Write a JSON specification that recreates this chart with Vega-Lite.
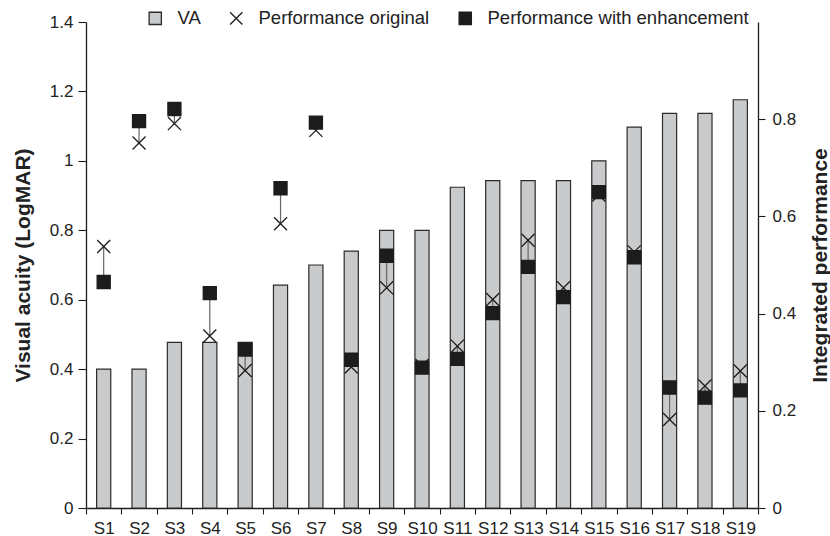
{
  "$schema": "https://vega.github.io/schema/vega-lite/v6.json",
  "width": 672,
  "height": 486,
  "autosize": {"type": "none"},
  "padding": {"left": 86, "top": 22, "right": 72, "bottom": 28},
  "background": "white",
  "data": {
    "values": [
      {"subject": "S1", "VA": 0.4, "Performance original": 0.538, "Performance with enhancement": 0.465},
      {"subject": "S2", "VA": 0.4, "Performance original": 0.751, "Performance with enhancement": 0.796},
      {"subject": "S3", "VA": 0.477, "Performance original": 0.791, "Performance with enhancement": 0.821},
      {"subject": "S4", "VA": 0.477, "Performance original": 0.354, "Performance with enhancement": 0.442},
      {"subject": "S5", "VA": 0.477, "Performance original": 0.283, "Performance with enhancement": 0.326},
      {"subject": "S6", "VA": 0.642, "Performance original": 0.585, "Performance with enhancement": 0.658},
      {"subject": "S7", "VA": 0.7, "Performance original": 0.777, "Performance with enhancement": 0.793},
      {"subject": "S8", "VA": 0.74, "Performance original": 0.29, "Performance with enhancement": 0.305},
      {"subject": "S9", "VA": 0.8, "Performance original": 0.453, "Performance with enhancement": 0.519},
      {"subject": "S10", "VA": 0.8, "Performance original": 0.293, "Performance with enhancement": 0.289},
      {"subject": "S11", "VA": 0.924, "Performance original": 0.333, "Performance with enhancement": 0.307},
      {"subject": "S12", "VA": 0.943, "Performance original": 0.429, "Performance with enhancement": 0.401},
      {"subject": "S13", "VA": 0.943, "Performance original": 0.551, "Performance with enhancement": 0.496},
      {"subject": "S14", "VA": 0.943, "Performance original": 0.453, "Performance with enhancement": 0.434},
      {"subject": "S15", "VA": 1.0, "Performance original": 0.644, "Performance with enhancement": 0.65},
      {"subject": "S16", "VA": 1.097, "Performance original": 0.527, "Performance with enhancement": 0.516},
      {"subject": "S17", "VA": 1.137, "Performance original": 0.182, "Performance with enhancement": 0.248},
      {"subject": "S18", "VA": 1.137, "Performance original": 0.251, "Performance with enhancement": 0.227},
      {"subject": "S19", "VA": 1.176, "Performance original": 0.282, "Performance with enhancement": 0.242}
    ]
  },
  "encoding": {
    "x": {
      "field": "subject",
      "type": "nominal",
      "sort": null,
      "scale": {"paddingInner": 0, "paddingOuter": 0},
      "axis": {
        "title": null,
        "labelAngle": 0,
        "tickBand": "extent",
        "tickSize": 6,
        "labelPadding": 6,
        "labelFontSize": 17
      }
    }
  },
  "layer": [
    {
      "mark": {"type": "bar", "width": {"band": 0.4}, "fill": "#c9cacc", "stroke": "#2b2b2b", "strokeWidth": 1.2},
      "encoding": {
        "y": {
          "field": "VA",
          "type": "quantitative",
          "scale": {"domain": [0, 1.4], "nice": false},
          "axis": {
            "orient": "left",
            "title": "Visual acuity (LogMAR)",
            "values": [0, 0.2, 0.4, 0.6, 0.8, 1, 1.2, 1.4],
            "format": "~g",
            "tickSize": 8,
            "labelPadding": 5,
            "titlePadding": 16,
            "labelFontSize": 17,
            "titleFontSize": 21
          }
        }
      }
    },
    {
      "layer": [
        {
          "mark": {"type": "rule", "stroke": "#666666", "strokeWidth": 1.2},
          "encoding": {
            "y": {
              "field": "Performance original",
              "type": "quantitative",
              "scale": {"domain": [0, 1], "nice": false},
              "axis": {
                "orient": "right",
                "title": "Integrated performance",
                "values": [0, 0.2, 0.4, 0.6, 0.8],
                "format": "~g",
                "tickSize": 7,
                "labelPadding": 7,
                "titlePadding": 14,
                "titleAngle": -90,
                "titleBaseline": "top",
                "labelFontSize": 17,
                "titleFontSize": 21
              }
            },
            "y2": {"field": "Performance with enhancement"}
          }
        },
        {
          "transform": [
            {"fold": ["Performance original", "Performance with enhancement"], "as": ["series", "value"]}
          ],
          "mark": {"type": "point", "size": 170, "strokeWidth": 1.3, "opacity": 1},
          "encoding": {
            "y": {
              "field": "value",
              "type": "quantitative",
              "scale": {"domain": [0, 1], "nice": false},
              "axis": {
                "orient": "right",
                "title": "Integrated performance",
                "values": [0, 0.2, 0.4, 0.6, 0.8],
                "format": "~g",
                "tickSize": 7,
                "labelPadding": 7,
                "titlePadding": 14,
                "titleAngle": -90,
                "titleBaseline": "top",
                "labelFontSize": 17,
                "titleFontSize": 21
              }
            },
            "shape": {
              "field": "series",
              "type": "nominal",
              "scale": {
                "domain": ["VA", "Performance original", "Performance with enhancement"],
                "range": ["square", "M-1,-1L1,1M-1,1L1,-1", "square"]
              },
              "legend": {"title": null, "orient": "none", "legendX": 60, "legendY": -13, "direction": "horizontal"}
            },
            "fill": {
              "field": "series",
              "type": "nominal",
              "scale": {
                "domain": ["VA", "Performance original", "Performance with enhancement"],
                "range": ["#c9cacc", "transparent", "#1c1c1c"]
              },
              "legend": {"title": null, "orient": "none", "legendX": 60, "legendY": -13, "direction": "horizontal"}
            },
            "stroke": {
              "field": "series",
              "type": "nominal",
              "scale": {
                "domain": ["VA", "Performance original", "Performance with enhancement"],
                "range": ["#2b2b2b", "#1c1c1c", "#1c1c1c"]
              },
              "legend": {"title": null, "orient": "none", "legendX": 60, "legendY": -13, "direction": "horizontal"}
            }
          }
        }
      ]
    }
  ],
  "resolve": {"scale": {"y": "independent"}},
  "config": {
    "font": "Liberation Sans",
    "view": {"stroke": null},
    "axis": {
      "grid": false,
      "domainColor": "#1e1e1e",
      "domainWidth": 1.3,
      "tickColor": "#1e1e1e",
      "tickWidth": 1.1,
      "labelColor": "#222222",
      "titleColor": "#222222",
      "labelFont": "Liberation Sans",
      "titleFont": "Liberation Sans",
      "titleFontWeight": "bold"
    },
    "legend": {
      "padding": 0,
      "labelFontSize": 18.5,
      "labelColor": "#222222",
      "labelFont": "Liberation Sans",
      "symbolSize": 150,
      "symbolStrokeWidth": 1.3,
      "labelOffset": 13,
      "columnPadding": 26,
      "labelLimit": 400
    }
  }
}
